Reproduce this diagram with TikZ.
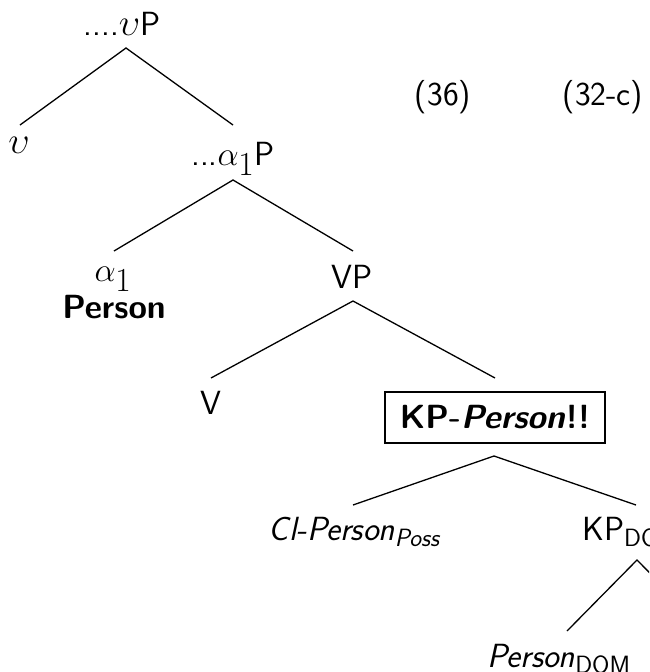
\documentclass[tikz,border=0pt]{standalone}
\newcommand\subx[1]{\raisebox{-6pt}{\fontsize{25}{28}\selectfont #1}}
\newcommand\mth[1]{\scalebox{1.52}{$#1$}}
\newcommand\mtha[1]{\scalebox{1.35}{$#1$}}
\begin{document}
\begin{tikzpicture}[x=1pt,y=-1pt,
  every node/.style={inner sep=0pt, font=\fontsize{33.5}{40}\selectfont\sffamily},
  lbl/.style={anchor=base},
  lblw/.style={anchor=base west},
  edge/.style={line width=1.3pt},
  kbox/.style={draw, line width=1.2pt, minimum width=220pt, minimum height=51pt}]
\useasboundingbox (0,0) rectangle (649,672);
\clip (0,0) rectangle (649,672);

% labels
\node[lbl] (vP) at (122,35) {....\mth{\upsilon}P};
\node[lbl] (v) at (19,153) {\mth{\upsilon}};
\node[lbl] (a1P) at (233,165) {...\mtha{\alpha_1}P};
\node[lbl] (a1) at (113,281) {\mtha{\alpha_1}};
\node[lbl] (pers) at (114,318) {\bfseries Person};
\node[lbl] (VP) at (352,288) {VP};
\node[lbl] (V) at (211,414) {V};
\node[kbox] (KP) at (495,417.5) {\bfseries KP-\textit{Person}!!};
\node[lbl] (cl) at (354,540) {\itshape Cl-Person\subx{Poss}};
\node[lblw] (kpd) at (582,540) {KP\subx{DOM}};
\node[lblw] (pd) at (487,667) {\textit{Person}\subx{DOM}};
\node[lbl] (n36) at (443,105) {(36)};
\node[lbl] (n32) at (603,105) {(32-c)};

% branch points
\coordinate (vPb) at (126,48);
\coordinate (vt) at (20,125);
\coordinate (a1Pt) at (233,125);
\coordinate (a1Pb) at (233,180);
\coordinate (a1t) at (114,251);
\coordinate (VPt) at (353,251);
\coordinate (VPb) at (353,301);
\coordinate (Vt) at (211,378);
\coordinate (KPt) at (495,378);
\coordinate (KPb) at (494,456);
\coordinate (clt) at (353,505);
\coordinate (kpdt) at (636,505);
\coordinate (kpdb) at (637,560);
\coordinate (pdt) at (567,631);
\coordinate (rt) at (707,631);

\draw[edge] (vt) -- (vPb) -- (a1Pt);
\draw[edge] (a1t) -- (a1Pb) -- (VPt);
\draw[edge] (Vt) -- (VPb) -- (KPt);
\draw[edge] (clt) -- (KPb) -- (kpdt);
\draw[edge] (pdt) -- (kpdb) -- (rt);
\end{tikzpicture}
\end{document}
